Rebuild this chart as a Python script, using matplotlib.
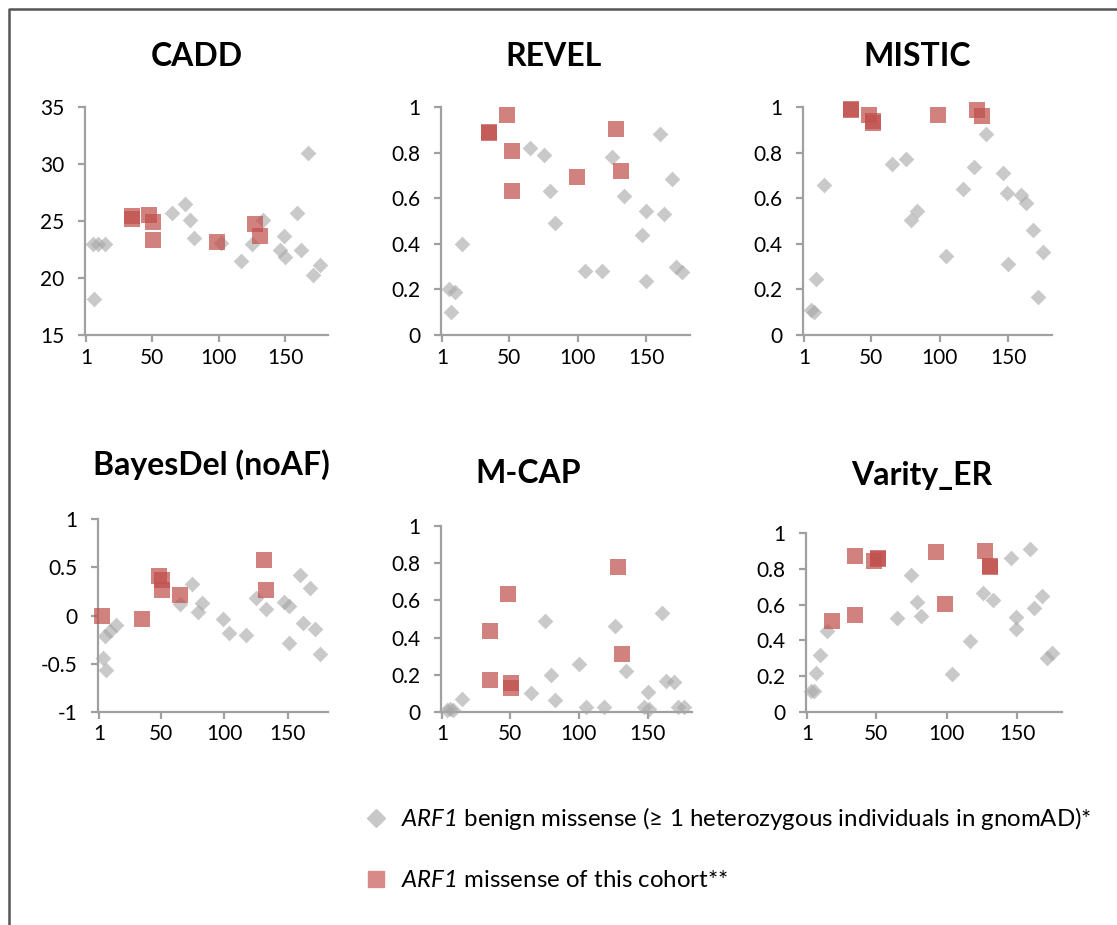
import matplotlib
matplotlib.use("Agg")
import matplotlib.pyplot as plt
from matplotlib.lines import Line2D
from matplotlib.ticker import FormatStrFormatter

plt.rcParams['font.family'] = ['Lato', 'DejaVu Sans']
plt.rcParams['mathtext.fontset'] = 'custom'
plt.rcParams['mathtext.rm'] = 'Lato:italic'
plt.rcParams['mathtext.it'] = 'Lato:italic'

# ---- data (x = residue position) ----
cadd_ben_x = [6, 7, 10, 15, 65, 75, 79, 82, 102, 117, 125, 133, 146, 149, 150, 159, 162, 167, 171, 176]
cadd_ben_y = [23.0, 18.2, 23.0, 23.0, 25.7, 26.5, 25.1, 23.5, 23.1, 21.5, 23.0, 25.1, 22.5, 23.7, 21.8, 25.7, 22.5, 31.0, 20.3, 21.1]
cadd_coh_x = [35, 35, 48, 51, 51, 99, 127, 131]
cadd_coh_y = [25.4, 25.2, 25.5, 24.9, 23.3, 23.2, 24.7, 23.7]

revel_ben_x = [6, 7, 10, 15, 65, 75, 80, 83, 105, 118, 125, 134, 147, 150, 150, 160, 163, 169, 172, 176]
revel_ben_y = [0.20, 0.10, 0.19, 0.40, 0.82, 0.79, 0.63, 0.49, 0.28, 0.28, 0.78, 0.61, 0.44, 0.545, 0.235, 0.88, 0.53, 0.685, 0.30, 0.275]
revel_coh_x = [35, 35, 48, 52, 52, 99.5, 128, 131.5]
revel_coh_y = [0.89, 0.885, 0.965, 0.805, 0.63, 0.695, 0.905, 0.72]

mistic_ben_x = [5.6, 7.8, 9.7, 15, 65, 75, 79, 83, 104.5, 117, 125, 134, 146, 149, 150, 159, 163, 168, 172, 175.5]
mistic_ben_y = [0.11, 0.10, 0.245, 0.66, 0.75, 0.77, 0.505, 0.545, 0.345, 0.64, 0.735, 0.88, 0.71, 0.625, 0.31, 0.615, 0.58, 0.46, 0.165, 0.365]
mistic_coh_x = [35, 35, 48, 51, 51, 99, 127, 131]
mistic_coh_y = [0.99, 0.985, 0.965, 0.94, 0.93, 0.965, 0.985, 0.96]

bayes_ben_x = [4, 5.3, 6.6, 9.2, 14.5, 64.5, 74, 79, 82, 99, 104, 117, 125, 133, 147, 151, 151, 160, 162, 168, 172, 175.5]
bayes_ben_y = [-0.445, -0.21, -0.56, -0.16, -0.10, 0.12, 0.325, 0.04, 0.13, -0.04, -0.185, -0.20, 0.18, 0.07, 0.145, 0.10, -0.28, 0.42, -0.075, 0.29, -0.14, -0.40]
bayes_coh_x = [3.5, 35, 48, 51, 51, 65, 131, 133]
bayes_coh_y = [0.0, -0.04, 0.41, 0.37, 0.265, 0.21, 0.58, 0.26]

mcap_ben_x = [4.6, 6.5, 9, 15, 65, 75.5, 80, 83, 100, 105, 118, 126, 134, 147, 150, 151, 160, 163, 169, 172, 176.5]
mcap_ben_y = [0.01, 0.015, 0.01, 0.07, 0.10, 0.49, 0.20, 0.065, 0.26, 0.025, 0.025, 0.465, 0.22, 0.025, 0.105, 0.018, 0.53, 0.165, 0.16, 0.027, 0.027]
mcap_coh_x = [35.5, 35.5, 48.5, 51, 51, 128, 131.5]
mcap_coh_y = [0.435, 0.17, 0.635, 0.155, 0.13, 0.78, 0.31]

varity_ben_x = [3.5, 6, 7.3, 9.6, 15, 65, 75, 79, 82, 104, 116.5, 125.5, 133, 146, 149.5, 149.5, 159, 162, 168, 171, 175]
varity_ben_y = [0.115, 0.12, 0.22, 0.32, 0.455, 0.525, 0.765, 0.615, 0.535, 0.21, 0.395, 0.665, 0.625, 0.86, 0.53, 0.465, 0.91, 0.58, 0.65, 0.30, 0.33]
varity_coh_x = [18.5, 35, 35, 48, 51, 51, 92.5, 99, 127, 131, 131]
varity_coh_y = [0.51, 0.87, 0.54, 0.845, 0.855, 0.86, 0.895, 0.605, 0.90, 0.81, 0.815]

titles = ['CADD', 'REVEL', 'MISTIC', 'BayesDel (noAF)', 'M-CAP', 'Varity_ER']
x_ticks = [1, 50, 100, 150]
legend_labels = [r'$ARF1$ benign missense (≥ 1 heterozygous individuals in gnomAD)*',
                 r'$ARF1$ missense of this cohort**']

W, H = 1117, 925
fig = plt.figure(figsize=(W / 100, H / 100), dpi=100)

# pixel boxes of the plot areas: left, right, top, bottom
boxes = [(85, 328, 107, 335), (441, 690, 107, 335), (803, 1052, 107, 335),
         (98, 328, 519, 712), (441, 692, 526, 712), (806, 1062, 533, 712)]
# title centre x, baseline y (pixels)
title_pos = [(197, 66), (553, 66), (917, 66), (211, 475), (528, 483), (922, 485)]
ylims = [(15, 35, 5), (0, 1, 0.2), (0, 1, 0.2), (-1, 1, 0.5), (0, 1, 0.2), (0, 1, 0.2)]

panels = [(cadd_ben_x, cadd_ben_y, cadd_coh_x, cadd_coh_y),
          (revel_ben_x, revel_ben_y, revel_coh_x, revel_coh_y),
          (mistic_ben_x, mistic_ben_y, mistic_coh_x, mistic_coh_y),
          (bayes_ben_x, bayes_ben_y, bayes_coh_x, bayes_coh_y),
          (mcap_ben_x, mcap_ben_y, mcap_coh_x, mcap_coh_y),
          (varity_ben_x, varity_ben_y, varity_coh_x, varity_coh_y)]

gray = '#A6A6A6'
red = '#C0504D'
axis_col = '#A0A0A0'

for i, (bx, by, cx, cy) in enumerate(panels):
    l, r, t, b = boxes[i]
    ax = fig.add_axes([l / W, 1 - b / H, (r - l) / W, (b - t) / H])
    ax.scatter(bx, by, marker='D', s=8.0 ** 2, color=gray, alpha=0.6, linewidths=0, zorder=3, clip_on=False)
    ax.scatter(cx, cy, marker='s', s=12.0 ** 2, color=red, alpha=0.72, linewidths=0, zorder=4, clip_on=False)
    lo, hi, step = ylims[i]
    ax.set_ylim(lo, hi)
    n = int(round((hi - lo) / step))
    ax.set_yticks([lo + k * step for k in range(n + 1)])
    ax.yaxis.set_major_formatter(FormatStrFormatter('%g'))
    ax.set_xlim(0, 182)
    ax.set_xticks(x_ticks)
    for s in ['top', 'right']:
        ax.spines[s].set_visible(False)
    for s in ['left', 'bottom']:
        ax.spines[s].set_color(axis_col)
        ax.spines[s].set_linewidth(1.6)
    ax.tick_params(direction='out', length=5, width=1.6, color=axis_col,
                   labelsize=15, labelcolor='black', pad=4)
    ax.tick_params(axis='y', pad=10)
    tx, ty = title_pos[i]
    fig.text(tx / W, 1 - ty / H, titles[i], ha='center', va='baseline',
             fontsize=23, fontweight='bold')

handles = [Line2D([], [], linestyle='none', marker='D', markersize=9, color='#C8C8C8'),
           Line2D([], [], linestyle='none', marker='s', markersize=12, color='#D88A88')]
fig.legend(handles, legend_labels, loc='upper left', bbox_to_anchor=(352 / W, 1 - 793 / H),
           frameon=False, fontsize=17.3, handlelength=1.0, handletextpad=0.55,
           labelspacing=1.6, borderpad=0)

# outer frame (left and top edges)
fig.add_artist(Line2D([9 / W, 9 / W, 1], [0, 1 - 9 / H, 1 - 9 / H],
                      transform=fig.transFigure, color='#555555', lw=1.8))

fig.savefig('out.png', dpi=100)
